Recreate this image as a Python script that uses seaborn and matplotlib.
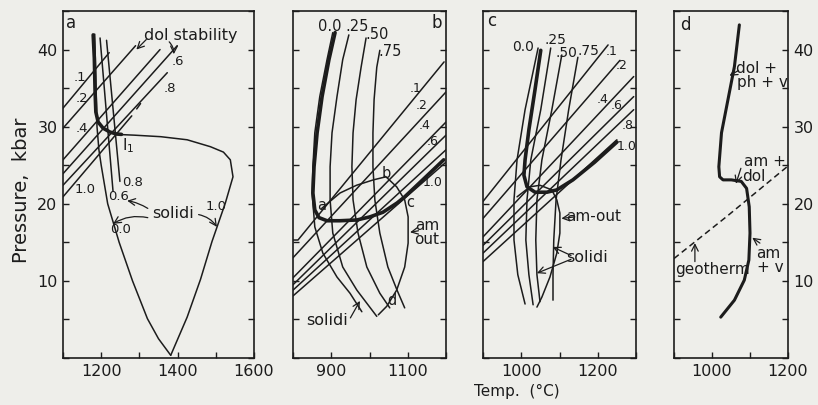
import matplotlib
matplotlib.use("Agg")
import matplotlib.pyplot as plt
import seaborn as sns

# ─────────────────────────────────────────────
# Data (Temp. in °C, Pressure in kbar)
# ─────────────────────────────────────────────

# panel a
A_SOL00_T = [1183, 1185, 1187, 1189, 1194, 1200, 1217, 1247, 1282, 1321, 1350, 1382]
A_SOL00_P = [42.0, 38.0, 34.0, 30.0, 27.0, 25.0, 20.0, 15.0, 10.0, 5.1, 2.5, 0.35]
A_SOL10_T = [1239, 1286, 1356, 1425, 1486, 1520, 1538, 1545, 1525, 1490, 1460, 1425, 1382]
A_SOL10_P = [29.0, 28.9, 28.7, 28.3, 27.4, 26.7, 25.7, 23.5, 20.1, 15.1, 10.2, 5.3, 0.35]
A_DOLOUT_T = [1179, 1182, 1184, 1186, 1192, 1205, 1223, 1240, 1253]
A_DOLOUT_P = [41.9, 38.9, 34.5, 31.9, 30.6, 29.8, 29.3, 29.05, 29.0]
A_SOL_MID_T = [[1197, 1231], [1214, 1249]]          # 0.6, 0.8
A_SOL_MID_P = [[41.5, 21.6], [41.2, 22.9]]
A_DOL_T = [[1100, 1221], [1100, 1290], [1100, 1354], [1100, 1399], [1100, 1373], [1100, 1280]]
A_DOL_P = [[32.4, 39.6], [29.8, 40.5], [25.7, 40.0], [23.9, 40.5], [22.4, 37.0], [20.9, 31.4]]
A_DASH_T = [1293, 1303]
A_DASH_P = [32.3, 33.0]

# panel b
B_SOL_T = [[904, 889, 870, 857, 852, 850, 857, 878, 915, 949, 980],
           [946, 930, 915, 902, 897, 897, 904, 930, 967, 1019],
           [991, 978, 965, 957, 954, 957, 970, 993, 1027, 1053],
           [1027, 1019, 1012, 1009, 1009, 1014, 1027, 1048, 1072, 1092]]
B_SOL_P = [[42.2, 38.7, 33.9, 29.2, 24.8, 21.4, 17.0, 13.6, 10.5, 8.4, 6.0],
           [41.9, 38.7, 33.9, 29.2, 24.8, 20.5, 16.2, 11.8, 8.8, 5.4],
           [41.5, 37.7, 33.5, 29.2, 24.8, 20.5, 16.2, 11.8, 8.4, 6.5],
           [39.9, 37.7, 33.5, 29.2, 24.8, 20.5, 16.2, 11.8, 8.8, 6.5]]
B_THICK_T = [910, 894, 876, 863, 855, 852, 857, 868, 889, 923, 967, 1001, 1035, 1072, 1092, 1139, 1194]
B_THICK_P = [42.2, 38.7, 33.9, 29.2, 24.8, 21.4, 19.2, 18.2, 17.8, 17.8, 17.9, 18.3, 18.9, 20.1, 20.9, 23.1, 25.7]
B_AMOUT_T = [875, 923, 966, 1010, 1043, 1071, 1092, 1101, 1101, 1092, 1071, 1045, 1023]
B_AMOUT_P = [19.4, 21.4, 22.4, 23.1, 23.5, 22.2, 20.5, 18.3, 14.9, 11.8, 8.8, 6.7, 5.6]
B_DOL_T = [[800, 813, 1195], [800, 1200], [800, 1200], [800, 1200], [800, 1200], [800, 1200]]
B_DOL_P = [[15.3, 15.3, 38.4], [13.0, 34.5], [10.4, 30.6], [9.5, 28.9], [8.8, 27.0], [8.05, 25.4]]

# panel c
C_SOL_T = [[1044, 1010, 989, 981, 981, 991, 1010],
           [1077, 1051, 1025, 1015, 1012, 1020, 1031],
           [1106, 1080, 1054, 1041, 1038, 1041, 1049],
           [1148, 1124, 1104, 1091, 1085, 1083, 1083]]
C_SOL_P = [[40.2, 32.2, 25.7, 20.5, 15.3, 10.8, 7.0],
           [40.2, 32.2, 25.7, 20.5, 15.3, 10.8, 6.9],
           [39.3, 32.2, 25.7, 20.5, 15.3, 10.8, 7.3],
           [39.0, 32.2, 25.7, 20.5, 15.3, 10.8, 7.5]]
C_THICK_T = [1051, 1036, 1020, 1010, 1007, 1015, 1036, 1067, 1093, 1135, 1192, 1250]
C_THICK_P = [39.9, 34.8, 29.6, 25.7, 23.7, 22.2, 21.5, 21.5, 21.8, 23.1, 25.4, 28.0]
C_AMOUT_T = [989, 1023, 1049, 1080, 1093, 1101, 1101, 1093, 1075, 1054, 1041]
C_AMOUT_P = [20.9, 22.2, 22.4, 21.8, 20.5, 18.8, 16.2, 13.6, 10.5, 7.9, 6.6]
C_DOL_T = [[900, 1227], [900, 1258], [900, 1294], [900, 1294], [900, 1294], [900, 1250]]
C_DOL_P = [[20.3, 40.6], [18.1, 38.6], [15.7, 36.5], [14.6, 33.9], [13.6, 32.2], [12.5, 28.3]]

# panel d
D_PATH_T = [1072, 1059, 1042, 1025, 1018, 1020, 1029, 1051, 1077, 1091, 1098, 1100, 1097, 1085, 1059, 1023]
D_PATH_P = [43.2, 37.8, 33.5, 29.2, 24.8, 23.5, 23.1, 23.1, 22.9, 22.0, 19.6, 16.2, 12.7, 10.1, 7.5, 5.3]
D_GEO_T = [900, 1040, 1200]
D_GEO_P = [12.9, 18.4, 24.9]

XLIMS = [(1100, 1600), (800, 1200), (900, 1300), (900, 1200)]
XLABELED = [[1200, 1400, 1600], [900, 1100], [1000, 1200], [1000, 1200]]
YLABELED = [10, 20, 30, 40]

INK = "#1c1c1c"
BG = "#eeeeea"

sns.set_theme(style="ticks")
plt.rcParams["font.family"] = ["DejaVu Sans"]


def curve(ax, t, p, lw=1.1, ls="-"):
    sns.lineplot(x=t, y=p, ax=ax, sort=False, estimator=None,
                 color=INK, lw=lw, linestyle=ls)


def label(ax, t, p, s, size=9.5, **kw):
    ax.text(t, p, s, fontsize=size, color=INK, ha="center", va="center", **kw)


def arrow(ax, tip, tail, rad=0.0):
    ax.annotate("", xy=tip, xytext=tail,
                arrowprops=dict(arrowstyle="->", lw=0.9, color=INK,
                                shrinkA=0, shrinkB=0,
                                connectionstyle=f"arc3,rad={rad}"))


fig = plt.figure(figsize=(8.18, 4.05), dpi=100, facecolor=BG)
W, H = 818, 405
boxes = [(63, 191), (293, 153), (483, 153), (674, 114)]
axes = []
for (x0, w), (t0, t1), xl in zip(boxes, XLIMS, XLABELED):
    ax = fig.add_axes([x0 / W, 1 - 358 / H, w / W, 347 / H], facecolor=BG)
    ax.set_xlim(t0, t1)
    ax.set_ylim(0, 45)
    xt = list(range(t0, t1 + 1, 100))
    ax.set_xticks(xt)
    ax.set_xticklabels([str(v) if v in xl else "" for v in xt])
    yt = list(range(0, 46, 5))
    ax.set_yticks(yt)
    ax.set_yticklabels([str(v) if v in YLABELED else "" for v in yt])
    ax.tick_params(direction="in", length=4, width=1, colors=INK,
                   left=True, right=True, top=False, labelsize=11.5,
                   labelleft=False, labelright=False, pad=4)
    for s in ax.spines.values():
        s.set_color(INK)
        s.set_linewidth(1.2)
    ax.set_xlabel("")
    ax.set_ylabel("")
    axes.append(ax)

axa, axb, axc, axd = axes
axa.tick_params(labelleft=True)
axd.tick_params(labelright=True)

# ── panel a ─────────────────────────────
for t, p in zip(A_DOL_T, A_DOL_P):
    curve(axa, t, p)
curve(axa, A_DASH_T, A_DASH_P)
for t, p in zip(A_SOL_MID_T, A_SOL_MID_P):
    curve(axa, t, p)
curve(axa, A_SOL00_T, A_SOL00_P)
curve(axa, A_SOL10_T, A_SOL10_P)
curve(axa, A_DOLOUT_T, A_DOLOUT_P, lw=2.6)

label(axa, 1120, 43.4, "a", size=12)
for (t, p), s in zip([(1144, 36.4), (1150, 33.7), (1150, 29.8), (1157, 21.8),
                      (1400, 38.4), (1379, 35.0)], [".1", ".2", ".4", "1.0", ".6", ".8"]):
    label(axa, t, p, s)
label(axa, 1270, 27.6, "I$_1$", size=11)
label(axa, 1246, 20.9, "0.6")
label(axa, 1281, 22.7, "0.8")
label(axa, 1251, 16.6, "0.0")
label(axa, 1501, 19.6, "1.0")
label(axa, 1388, 18.8, "solidi", size=11.5)
label(axa, 1434, 41.8, "dol stability", size=11.5)
arrow(axa, (1292, 40.0), (1318, 41.3))
arrow(axa, (1390, 39.4), (1378, 41.0), rad=-0.2)
arrow(axa, (1268, 20.4), (1322, 19.4), rad=0.1)
arrow(axa, (1231, 17.4), (1322, 18.2), rad=0.2)
arrow(axa, (1503, 17.0), (1455, 18.6), rad=-0.2)

# ── panel b ─────────────────────────────
for t, p in zip(B_DOL_T, B_DOL_P):
    curve(axb, t, p)
for t, p in zip(B_SOL_T, B_SOL_P):
    curve(axb, t, p)
curve(axb, B_AMOUT_T, B_AMOUT_P)
curve(axb, B_THICK_T, B_THICK_P, lw=2.6)

label(axb, 1176, 43.4, "b", size=12)
for (t, p), s in zip([(897, 43.0), (968, 43.0), (1021, 41.9), (1055, 39.7)],
                     ["0.0", ".25", ".50", ".75"]):
    label(axb, t, p, s, size=10.5)
for (t, p), s in zip([(1121, 35.0), (1137, 32.8), (1143, 30.1), (1166, 28.1), (1166, 22.8)],
                     [".1", ".2", ".4", ".6", "1.0"]):
    label(axb, t, p, s, size=9)
label(axb, 876, 19.8, "a", size=10.5)
label(axb, 1043, 23.9, "b", size=10.5)
label(axb, 1107, 20.2, "c", size=10.5)
label(axb, 1058, 7.4, "d", size=10.5)
axb.text(1150, 16.3, "am\nout", fontsize=11, color=INK, ha="center", va="center",
         linespacing=0.9)
arrow(axb, (1106, 16.3), (1128, 16.5))
label(axb, 889, 4.8, "solidi", size=11.5)
arrow(axb, (975, 7.4), (950, 5.2))

# ── panel c ─────────────────────────────
for t, p in zip(C_DOL_T, C_DOL_P):
    curve(axc, t, p)
for t, p in zip(C_SOL_T, C_SOL_P):
    curve(axc, t, p)
curve(axc, C_AMOUT_T, C_AMOUT_P)
curve(axc, C_THICK_T, C_THICK_P, lw=2.6)

label(axc, 924, 43.7, "c", size=12)
for (t, p), s in zip([(1005, 40.3), (1090, 41.2), (1118, 39.5), (1176, 39.8)],
                     ["0.0", ".25", ".50", ".75"]):
    label(axc, t, p, s, size=10)
for (t, p), s in zip([(1235, 39.8), (1263, 37.9), (1213, 33.5), (1248, 32.8),
                      (1277, 30.2), (1275, 27.4)], [".1", ".2", ".4", ".6", ".8", "1.0"]):
    label(axc, t, p, s, size=9)
label(axc, 1190, 18.3, "am-out", size=11)
arrow(axc, (1105, 18.1), (1140, 18.3))
label(axc, 1173, 13.0, "solidi", size=11.5)
arrow(axc, (1082, 14.4), (1130, 13.3))
arrow(axc, (1041, 11.0), (1130, 12.8))

# ── panel d ─────────────────────────────
curve(axd, D_GEO_T, D_GEO_P, lw=1.1, ls=(0, (4, 2.5)))
curve(axd, D_PATH_T, D_PATH_P, lw=2.2)

label(axd, 929, 43.2, "d", size=12)
axd.text(1062, 37.6, "dol +", fontsize=11, color=INK, ha="left", va="center")
axd.text(1066, 35.7, "ph + v", fontsize=11, color=INK, ha="left", va="center")
arrow(axd, (1046, 36.6), (1070, 37.3))
axd.text(1085, 25.5, "am +", fontsize=11, color=INK, ha="left", va="center")
axd.text(1078, 23.6, "dol", fontsize=11, color=INK, ha="left", va="center")
arrow(axd, (1063, 22.6), (1076, 24.6))
axd.text(1115, 13.6, "am", fontsize=11, color=INK, ha="left", va="center")
axd.text(1118, 11.7, "+ v", fontsize=11, color=INK, ha="left", va="center")
arrow(axd, (1106, 15.6), (1126, 14.9))
label(axd, 1000, 11.5, "geotherm", size=11)
arrow(axd, (955, 14.9), (955, 12.5))

fig.text(22 / W, 1 - 190 / H, "Pressure,  kbar", rotation=90, ha="center", va="center",
         fontsize=14, color=INK)
fig.text(517 / W, 1 - 391 / H, "Temp.  (°C)", ha="center", va="center",
         fontsize=11, color=INK)

fig.savefig("out.png", dpi=100, facecolor=BG)
